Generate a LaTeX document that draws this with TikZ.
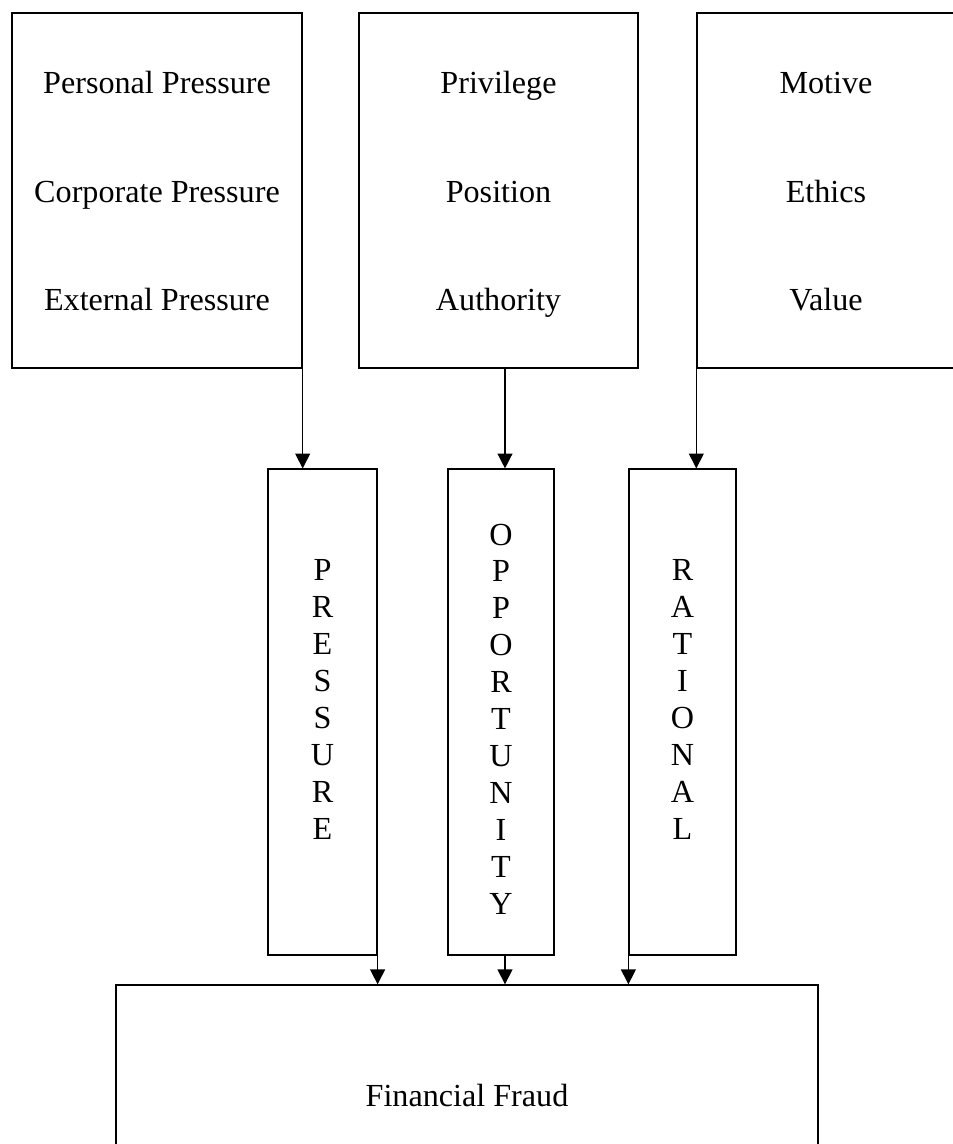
\documentclass[tikz,border=0pt]{standalone}
\usepackage{fontspec}
\setmainfont{Liberation Serif}
\usetikzlibrary{arrows.meta, positioning}
\newcommand{\lnstrut}{\vphantom{Ply}}
\newcommand{\topstrut}{\rule{0pt}{17.5pt}}

\begin{document}
\begin{tikzpicture}[x=0.02cm, y=-0.02cm,
    topbox/.style={draw, line width=0.8pt, minimum width=#1, minimum height=7.1cm,
      align=center, font=\fontsize{18.3}{61.8}\selectfont},
    colbox/.style={draw, line width=0.7pt, minimum width=#1, minimum height=9.72cm},
    letters/.style={align=center, inner sep=0pt, font=\fontsize{18.3}{21}\selectfont},
    arr/.style={-{Triangle[width=8.5pt,length=8.5pt]}, line width=0.8pt}]
    \useasboundingbox (0,0) rectangle (953,1144);
    \clip (0,0) rectangle (953,1144);
    % top boxes
    \node[topbox=5.8cm] (press) at (157,190.5)
      {\topstrut Personal Pressure\\Corporate Pressure\\\lnstrut External Pressure};
    \node[topbox=5.58cm] (oppo) at (498.5,190.5)
      {\topstrut Privilege\\Position\\\lnstrut Authority};
    \node[topbox=5.16cm] (ratio) at (826,190.5)
      {\topstrut Motive\\Ethics\\\lnstrut Value};
    % the three columns
    \node[colbox=2.18cm] (pres) at (322.5,712) {};
    \node[colbox=2.12cm] (opp) at (501,712) {};
    \node[colbox=2.14cm] (rat) at (682.5,712) {};
    \node[letters, below=1.82cm of pres.north] (prestxt) {P\\R\\E\\S\\S\\U\\R\\E};
    \node[letters, below=1.1cm of opp.north] (opptxt) {O\\P\\P\\O\\R\\T\\U\\N\\I\\T\\Y};
    \node[letters, below=1.82cm of rat.north] (rattxt) {R\\A\\T\\I\\O\\N\\A\\L};
    % bottom box
    \node[draw, line width=0.8pt, minimum width=14.04cm, minimum height=4.4cm,
      font=\fontsize{18.3}{21}\selectfont] (fraud) at (467,1095) {Financial Fraud};
    % from top boxes to columns
    \draw[arr] (press.south east) -- (press.south east |- pres.north);
    \draw[arr] ([xshift=0.08cm]opp.north |- oppo.south) -- ([xshift=0.08cm]opp.north);
    \draw[arr] (ratio.south west) -- (ratio.south west |- rat.north);
    % from columns to fraud
    \draw[arr] (pres.south east) -- (pres.south east |- fraud.north);
    \draw[arr] ([xshift=0.08cm]opp.south) -- ([xshift=0.08cm]opp.south |- fraud.north);
    \draw[arr] (rat.south west) -- (rat.south west |- fraud.north);
\end{tikzpicture}
\end{document}
